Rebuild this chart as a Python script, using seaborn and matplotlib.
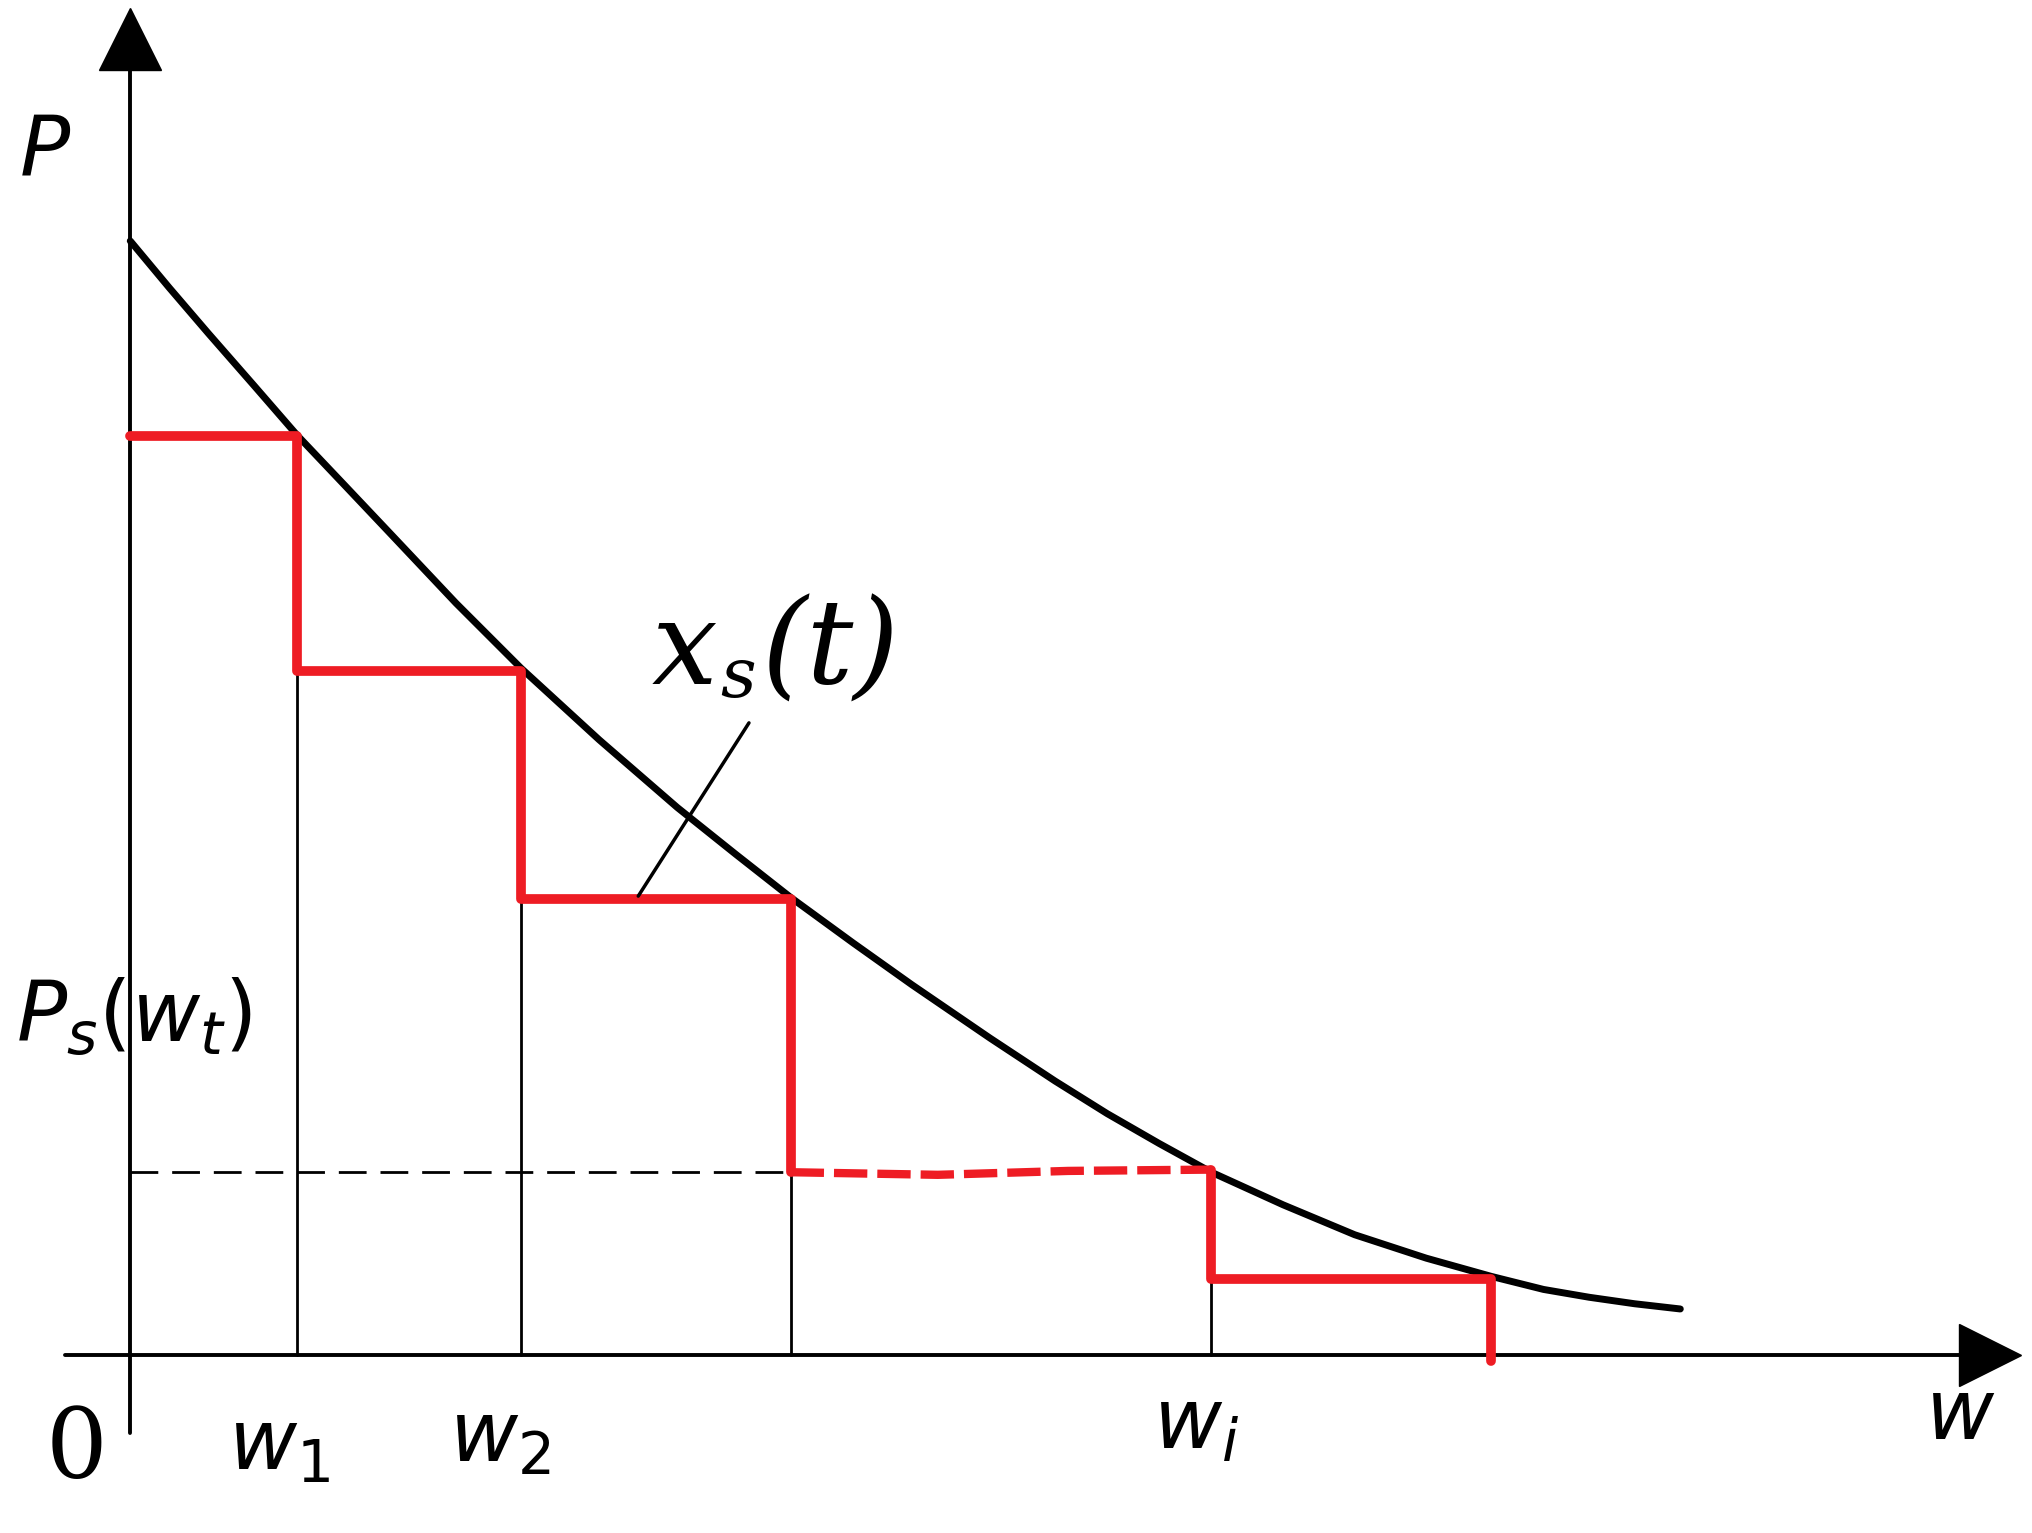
import numpy as np
import matplotlib.pyplot as plt
import seaborn as sns

sns.set_style("white")

# curve points (x to the right, y downward in picture units)
curve_x = [100, 130, 160, 195, 228, 265, 300, 350, 400, 460, 520, 565, 607, 655, 700, 760,
           810, 850, 890, 930, 985, 1040, 1095, 1145, 1185, 1220, 1255, 1290]
curve_y = [185, 221, 256, 296, 334, 373, 410, 463, 513, 568, 620, 656, 689, 724, 756, 797,
           830, 855, 878, 900, 925, 948, 966, 980, 990, 996, 1001, 1005]

# staircase corners
step_x = [100, 228, 228, 400, 400, 607, 607]
step_y = [335, 335, 515, 515, 690, 690, 900]
step2_x = [930, 930, 1145, 1145]
step2_y = [898, 982, 982, 1045]
dash_x = [607, 720, 820, 930]
dash_y = [900, 902, 899, 898]

tick_x = [228, 400, 607, 930]
tick_top = [335, 515, 690, 900]
ps_level = 900

fig = plt.figure(figsize=(20.32, 15.33), dpi=100)
ax = fig.add_axes([0, 0, 1, 1])
ax.set_xlim(0, 1560)
ax.set_ylim(1177, 0)
ax.axis("off")

# axes
ax.plot([100, 100], [1100, 40], color="k", lw=2.8)
ax.plot([50, 1520], [1040, 1040], color="k", lw=2.8)
ax.plot([100], [30], marker="^", color="k", ms=44)
ax.plot([1528], [1040], marker=">", color="k", ms=44)

# thin verticals and dashed level
for x, t in zip(tick_x, tick_top):
    ax.plot([x, x], [1040, t], color="k", lw=2)
ax.plot([100, 607], [ps_level, ps_level], color="k", lw=2, ls=(0, (10, 5)))

sns.lineplot(x=curve_x, y=curve_y, ax=ax, color="k", lw=5, sort=False)
ax.plot(step_x, step_y, color="#ee1c24", lw=7)
ax.plot(step2_x, step2_y, color="#ee1c24", lw=7)
ax.plot(dash_x, dash_y, color="#ee1c24", lw=6, ls=(0, (4, 1.2)))

# leader for x_s(t)
ax.plot([575, 490], [555, 688], color="k", lw=2.5)

plt.rcParams["mathtext.fontset"] = "dejavusans"
ax.text(15, 135, "P", fontsize=60, style="italic", color="k")
ax.text(35, 1135, "0", fontsize=70, family="DejaVu Serif", color="k")
ax.text(175, 1128, "$w_1$", fontsize=60, color="k")
ax.text(345, 1122, "$w_2$", fontsize=60, color="k")
ax.text(885, 1112, "$w_i$", fontsize=60, color="k")
ax.text(1478, 1105, "$w$", fontsize=60, color="k")
ax.text(500, 525, r"$\mathsf{}$", fontsize=10, color="k")
ax.text(500, 525, "x", fontsize=84, family="DejaVu Serif", style="italic", color="k")
ax.text(553, 535, "s", fontsize=50, family="DejaVu Serif", style="italic", color="k")
ax.text(585, 525, "(t)", fontsize=84, family="DejaVu Serif", style="italic", color="k")
ax.text(12, 800, "$P_s(w_t)$", fontsize=60, color="k")

fig.savefig("out.png", dpi=100)
